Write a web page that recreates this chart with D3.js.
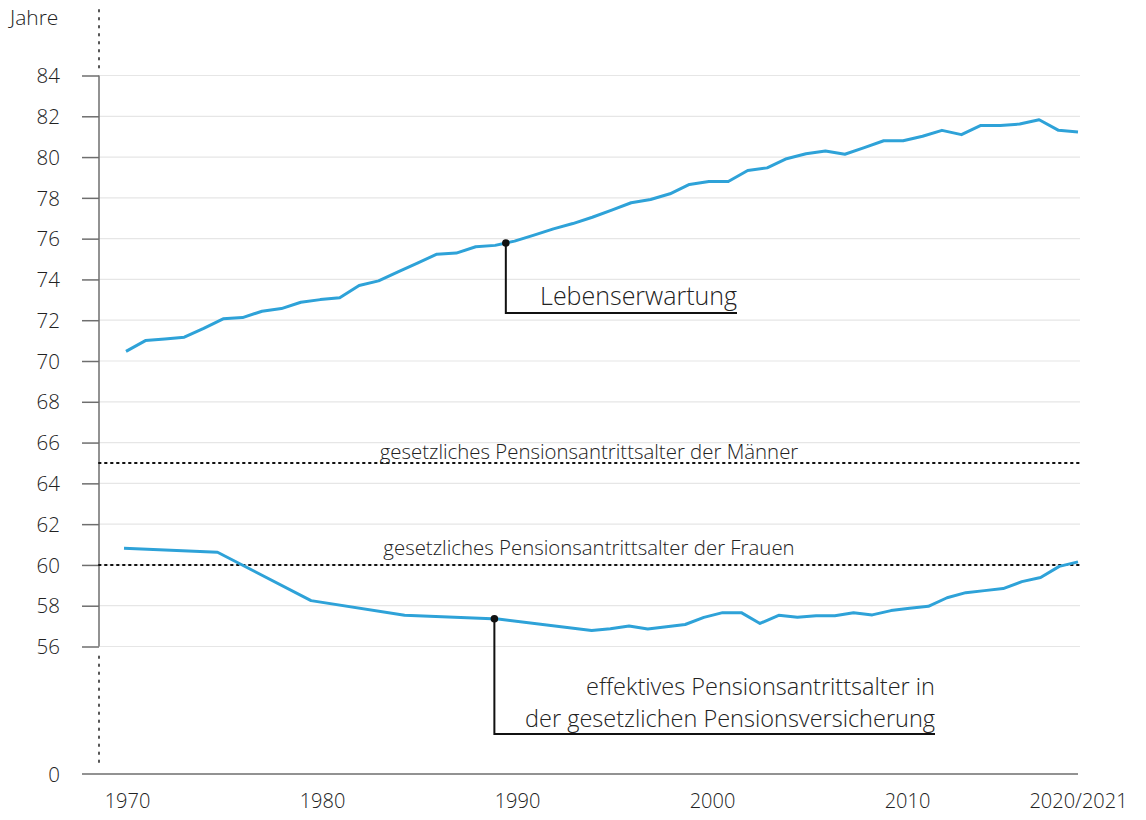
<!DOCTYPE html>
<html><head><meta charset="utf-8">
<script src="https://cdn.jsdelivr.net/npm/d3@7"></script>
<style>
html,body{margin:0;padding:0;background:#fff;}
svg text{font-family:"Open Sans","Segoe UI",sans-serif;font-weight:300;fill:#222;}
</style></head>
<body><svg id="c" width="1146" height="820"></svg>
<script>
// Lebenserwartung 1972–2021
const lifeYears = d3.range(1972, 2022);
const lifeValues = [70.47,71.0,71.08,71.17,71.6,72.07,72.13,72.44,72.57,72.88,
  73.01,73.1,73.7,73.93,74.37,74.8,75.24,75.29,75.6,75.67,
  75.88,76.17,76.48,76.74,77.05,77.4,77.76,77.92,78.2,78.66,
  78.8,78.8,79.34,79.47,79.92,80.16,80.3,80.14,80.46,80.8,
  80.8,81.02,81.31,81.1,81.55,81.55,81.62,81.83,81.31,81.23];
// effektives Pensionsantrittsalter
const retYears = [1970,1975,1980,1985,1990].concat(d3.range(1995, 2022));
const retValues = [60.82,60.62,58.25,57.53,57.35,
  56.79,56.87,57.01,56.86,56.97,57.08,57.43,57.66,57.66,57.13,
  57.53,57.43,57.51,57.51,57.65,57.55,57.76,57.88,57.97,58.39,
  58.64,58.74,58.84,59.18,59.38,59.93,60.15];
const legalMen = 65, legalWomen = 60;
const yTicks = [56,58,60,62,64,66,68,70,72,74,76,78,80,82,84];
const xTickYears = [1970,1980,1990,2000,2010,2021];
const xTickLabels = ["1970","1980","1990","2000","2010","2020/2021"];
const lifeMarkerYear = 1991.55, retMarkerYear = 1989.8;

const svg = d3.select("#c");
const y = d3.scaleLinear().domain([0,56,84]).range([774,646.5,75.5]);
const xLife = d3.scaleLinear().domain([1972,2021]).range([126,1078]);
const xRet = d3.scaleLinear().domain([1970,2021]).range([124,1078]);
const xTick = d3.scaleLinear().domain([1970,2010,2021]).range([127,907,1078]);
const axisX = 99, gridRight = 1080;

// gridlines
svg.append("g").selectAll("line").data(yTicks).join("line")
  .attr("x1",axisX).attr("x2",gridRight)
  .attr("y1",d=>y(d)).attr("y2",d=>y(d))
  .attr("stroke","#e6e6e6").attr("stroke-width",1.2);

// y axis
const yAxis = d3.axisLeft(y).tickValues(yTicks.concat([0])).tickSize(17).tickPadding(22).tickFormat(d3.format("d"));
const gy = svg.append("g").attr("transform",`translate(${axisX},0)`).call(yAxis);
gy.select(".domain").remove();
gy.selectAll(".tick line").attr("stroke","#6e6e6e").attr("stroke-width",1.5);
gy.selectAll(".tick text").attr("font-size",20.5).attr("fill","#222").attr("dy","0.35em");
gy.selectAll(".tick").filter(d=>d===0).select("line").remove();
svg.append("line").attr("x1",axisX).attr("x2",axisX).attr("y1",y(84)).attr("y2",y(56))
  .attr("stroke","#6e6e6e").attr("stroke-width",1.5);
// axis break dotted
[[10,y(84)-2],[y(56)+10,y(0)-6]].forEach(([a,b])=>{
  svg.append("line").attr("x1",axisX).attr("x2",axisX).attr("y1",a).attr("y2",b)
    .attr("stroke","#555").attr("stroke-width",2).attr("stroke-dasharray","1.6,6.4").attr("stroke-linecap","round");
});
// zero baseline
svg.append("line").attr("x1",82).attr("x2",1078).attr("y1",y(0)).attr("y2",y(0))
  .attr("stroke","#6e6e6e").attr("stroke-width",1.5);

svg.append("text").attr("x",10).attr("y",18).attr("dy","0.35em").attr("font-size",21).text("Jahre");

// x labels
const xAxis = d3.axisBottom(xTick).tickValues(xTickYears).tickSize(0).tickPadding(0)
  .tickFormat((d,i)=>xTickLabels[i]);
const gx = svg.append("g").attr("transform","translate(0,794)").call(xAxis);
gx.select(".domain").remove();
gx.selectAll(".tick text").attr("font-size",20).attr("fill","#222").attr("dy","0.71em");

// legal retirement age dotted lines
[legalMen, legalWomen].forEach(v=>{
  svg.append("line").attr("x1",axisX).attr("x2",gridRight).attr("y1",y(v)).attr("y2",y(v))
    .attr("stroke","#111").attr("stroke-width",2).attr("stroke-dasharray","1.6,4.4").attr("stroke-linecap","round");
});
svg.append("text").attr("x",589).attr("y",459).attr("text-anchor","middle").attr("font-size",20.4)
  .text("gesetzliches Pensionsantrittsalter der Männer");
svg.append("text").attr("x",589).attr("y",555).attr("text-anchor","middle").attr("font-size",20.4)
  .text("gesetzliches Pensionsantrittsalter der Frauen");

// lines
const lineLife = d3.line().x((d,i)=>xLife(lifeYears[i])).y(d=>y(d));
svg.append("path").datum(lifeValues).attr("d",lineLife).attr("fill","none")
  .attr("stroke","#2ea2d8").attr("stroke-width",3).attr("stroke-linejoin","round");
const lineRet = d3.line().x((d,i)=>xRet(retYears[i])).y(d=>y(d));
svg.append("path").datum(retValues).attr("d",lineRet).attr("fill","none")
  .attr("stroke","#2ea2d8").attr("stroke-width",3).attr("stroke-linejoin","round");

// annotations
function interp(years, vals, yr){
  const i = d3.bisectRight(years, yr) - 1;
  const t = (yr-years[i])/(years[i+1]-years[i]);
  return vals[i] + t*(vals[i+1]-vals[i]);
}
const lmx = xLife(lifeMarkerYear), lmy = y(interp(lifeYears, lifeValues, lifeMarkerYear));
svg.append("path").attr("d",`M${lmx},${lmy}V313H737`).attr("fill","none").attr("stroke","#111").attr("stroke-width",2);
svg.append("circle").attr("cx",lmx).attr("cy",lmy).attr("r",3.8).attr("fill","#111");
svg.append("text").attr("x",737).attr("y",305).attr("text-anchor","end").attr("font-size",25).text("Lebenserwartung");

const rmx = xRet(retMarkerYear), rmy = y(interp(retYears, retValues, retMarkerYear));
svg.append("path").attr("d",`M${rmx},${rmy}V734H935`).attr("fill","none").attr("stroke","#111").attr("stroke-width",2);
svg.append("circle").attr("cx",rmx).attr("cy",rmy).attr("r",3.8).attr("fill","#111");
svg.append("text").attr("x",935).attr("y",695).attr("text-anchor","end").attr("font-size",23.5).text("effektives Pensionsantrittsalter in");
svg.append("text").attr("x",935).attr("y",727).attr("text-anchor","end").attr("font-size",23.5).text("der gesetzlichen Pensionsversicherung");
</script></body></html>
